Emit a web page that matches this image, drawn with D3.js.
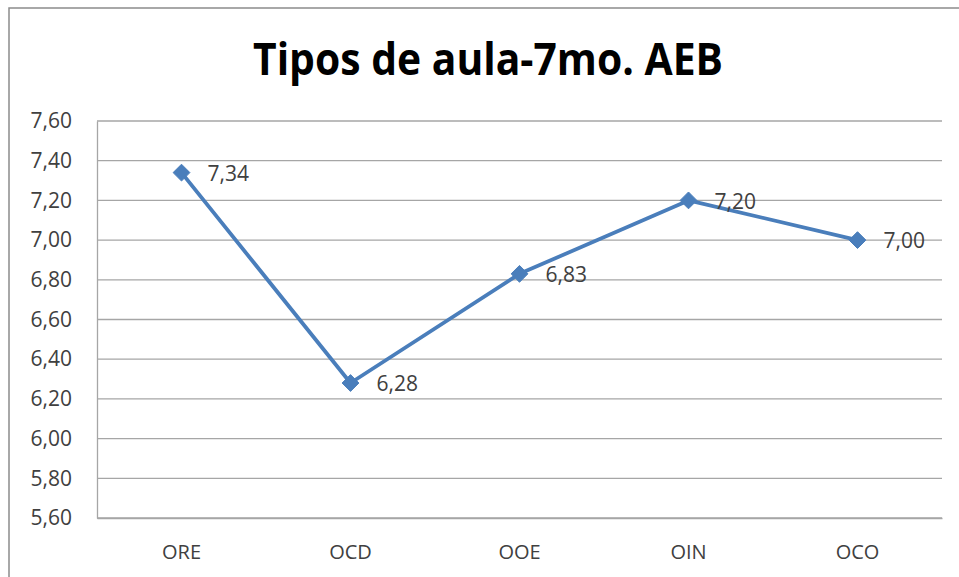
<!DOCTYPE html>
<html>
<head>
<meta charset="utf-8">
<script src="https://cdn.jsdelivr.net/npm/d3@7"></script>
<style>
  html, body { margin: 0; padding: 0; background: #fff; }
  svg { display: block; }
</style>
</head>
<body>
<svg id="chart" width="959" height="577"></svg>
<script>
const title = "Tipos de aula-7mo. AEB";
const categories = ["ORE", "OCD", "OOE", "OIN", "OCO"];
const values = [7.34, 6.28, 6.83, 7.20, 7.00];
const yTicks = [5.60, 5.80, 6.00, 6.20, 6.40, 6.60, 6.80, 7.00, 7.20, 7.40, 7.60];

const svg = d3.select("#chart");
const W = 959, H = 577;
const m = { left: 97, right: 942, top: 121, bottom: 518 };
const fmt = v => v.toFixed(2).replace(".", ",");
const font = "'Open Sans', 'Liberation Sans', sans-serif";

svg.append("rect").attr("x", 0).attr("y", 0).attr("width", W).attr("height", H).attr("fill", "#fff");
// outer chart border
svg.append("rect").attr("x", 9).attr("y", 8).attr("width", W + 10).attr("height", H + 10)
  .attr("fill", "none").attr("stroke", "#8c8c8c").attr("stroke-width", 1.5);

const x = d3.scaleBand().domain(categories).range([m.left, m.right]);
const y = d3.scaleLinear().domain([5.6, 7.6]).range([m.bottom, m.top]);

// gridlines
svg.append("g").selectAll("line").data(yTicks).join("line")
  .attr("x1", m.left).attr("x2", m.right)
  .attr("y1", d => y(d)).attr("y2", d => y(d))
  .attr("stroke", "#a6a6a6").attr("stroke-width", 1.3);

// y axis
const yAxis = svg.append("g").attr("transform", `translate(${m.left},0)`)
  .call(d3.axisLeft(y).tickValues(yTicks).tickFormat(fmt).tickSize(0).tickPadding(25));
yAxis.select(".domain").attr("stroke", "#a6a6a6").attr("stroke-width", 1.3);
yAxis.selectAll("text").attr("font-family", font).attr("font-size", 21).attr("fill", "#404040");

// x axis
const xAxis = svg.append("g").attr("transform", `translate(0,${m.bottom})`)
  .call(d3.axisBottom(x).tickSize(0).tickPadding(27));
xAxis.select(".domain").attr("stroke", "#a6a6a6").attr("stroke-width", 1.3);
xAxis.selectAll("text").attr("font-family", font).attr("font-size", 20).attr("fill", "#404040");

// title
svg.append("text").attr("x", 488).attr("y", 75).attr("text-anchor", "middle")
  .attr("font-family", font).attr("font-weight", "bold").attr("font-size", 44)
  .attr("textLength", 470).attr("lengthAdjust", "spacingAndGlyphs")
  .attr("fill", "#000").text(title);

const pts = categories.map((c, i) => ({ c, v: values[i], px: x(c) + x.bandwidth() / 2, py: y(values[i]) }));

// line
svg.append("path").datum(pts)
  .attr("d", d3.line().x(d => d.px).y(d => d.py))
  .attr("fill", "none").attr("stroke", "#4a7ebb").attr("stroke-width", 3.8)
  .attr("stroke-linejoin", "round");

// markers
svg.append("g").selectAll("path").data(pts).join("path")
  .attr("transform", d => `translate(${d.px},${d.py})`)
  .attr("d", d3.symbol().type(d3.symbolDiamond2).size(180))
  .attr("fill", "#4a7ebb").attr("stroke", "#4a7ebb").attr("stroke-width", 1);

// data labels
svg.append("g").selectAll("text").data(pts).join("text")
  .attr("x", d => d.px + 26).attr("y", d => d.py + 1)
  .attr("dy", "0.35em")
  .attr("font-family", font).attr("font-size", 21).attr("fill", "#404040")
  .text(d => fmt(d.v));
</script>
</body>
</html>
